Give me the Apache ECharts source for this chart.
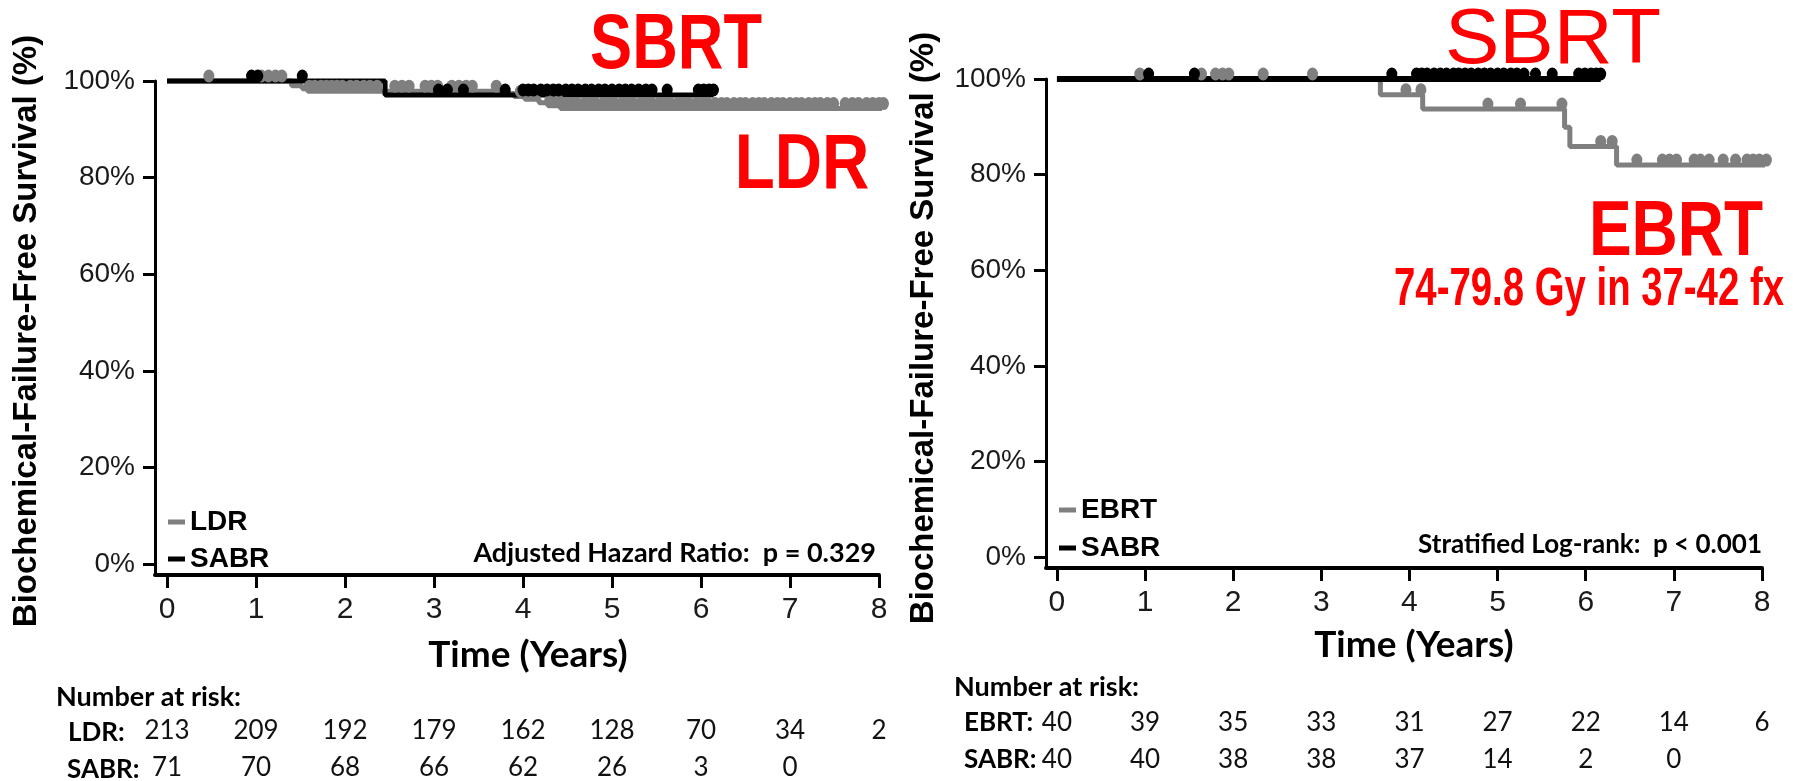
<!DOCTYPE html>
<html>
<head>
<meta charset="utf-8">
<script src="https://cdn.jsdelivr.net/npm/echarts@6/dist/echarts.min.js"></script>
<style>
html,body{margin:0;padding:0;background:#fff;}
#chart{width:1804px;height:781px;}
</style>
</head>
<body>
<div id="chart"></div>
<script>
// tick values
var yearTicks = [0, 1, 2, 3, 4, 5, 6, 7, 8];
var pctTicks = [0, 20, 40, 60, 80, 100];

// left panel - LDR vs SABR (step points)
var ldrTimes = [0, 1.40, 1.52, 1.58, 3.72, 3.90, 4.02, 4.18, 4.28, 4.42, 8.05];
var ldrSurv = [100, 99.0, 98.4, 97.9, 97.4, 96.8, 96.2, 95.5, 94.9, 94.3, 94.3];
var sabrLTimes = [0, 2.45, 6.14];
var sabrLSurv = [100, 97.1, 97.1];
// censor marks (years)
var ldrCensor = [0.47, 1.06, 1.14, 1.22, 1.29, 1.6, 1.66, 1.73, 1.79, 1.85, 1.91, 1.97, 2.06, 2.13, 2.21, 2.28, 2.36,
    2.56, 2.64, 2.72, 2.9, 2.97, 3.04, 3.2, 3.28, 3.36, 3.43, 3.7, 3.97, 4.05, 4.14, 4.3, 4.4, 4.48, 4.55, 4.61,
    4.69, 4.76, 4.82, 4.9, 4.97, 5.03, 5.11, 5.18, 5.24, 5.32, 5.39, 5.45, 5.53, 5.6, 5.66, 5.74, 5.81, 5.87, 5.95,
    6.02, 6.08, 6.16, 6.23, 6.29, 6.37, 6.44, 6.5, 6.58, 6.65, 6.71, 6.79, 6.86, 6.92, 7.0, 7.07, 7.13, 7.21, 7.28,
    7.34, 7.42, 7.49, 7.62, 7.7, 7.77, 7.86, 7.93, 8.0, 8.05];
var sabrLCensor = [0.95, 1.02, 1.52, 3.05, 3.15, 3.33, 3.8, 4.0, 4.06, 4.12, 4.2, 4.27, 4.34, 4.4, 4.48, 4.55, 4.62,
    4.7, 4.77, 4.85, 4.92, 5.0, 5.08, 5.15, 5.22, 5.3, 5.38, 5.45, 5.62, 5.97, 6.03, 6.09, 6.14];

// right panel - EBRT vs SABR
var ebrtTimes = [0, 3.67, 4.15, 5.76, 5.82, 6.35, 8.07];
var ebrtSurv = [100, 96.7, 93.7, 89.9, 85.9, 82.0, 82.0];
var sabrRTimes = [0, 6.17];
var sabrRSurv = [100, 100];
var ebrtCensor = [0.94, 1.64, 1.8, 1.88, 1.95, 2.34, 2.9, 3.96, 4.13, 4.89, 5.26, 5.73, 6.17, 6.3, 6.58, 6.87,
    6.95, 7.03, 7.23, 7.3, 7.4, 7.56, 7.7, 7.83, 7.9, 7.97, 8.05];
var sabrRCensor = [1.04, 1.56, 3.8, 4.08, 4.14, 4.2, 4.28, 4.35, 4.42, 4.5, 4.56, 4.63, 4.7, 4.78, 4.85, 4.92, 5.0,
    5.07, 5.15, 5.22, 5.3, 5.43, 5.62, 5.92, 5.99, 6.06, 6.12, 6.17];

// number at risk
var riskLdr = [213, 209, 192, 179, 162, 128, 70, 34, 2];
var riskSabrL = [71, 70, 68, 66, 62, 26, 3, 0];
var riskEbrt = [40, 39, 35, 33, 31, 27, 22, 14, 6];
var riskSabrR = [40, 40, 38, 38, 37, 14, 2, 0];

var GRAY = '#7f7f7f';
var ARIAL = '"Liberation Sans", Arial, sans-serif';
var CALI = 'Lato, "Open Sans", sans-serif';

function pairs(t, s) {
    return t.map(function (v, i) { return [v, s[i]]; });
}
function survAt(t, s, x) {
    var v = s[0];
    for (var i = 0; i < t.length; i++) { if (t[i] <= x) v = s[i]; }
    return v;
}
function censorPts(c, t, s) {
    return c.map(function (x) { return [x, survAt(t, s, x)]; });
}

function mainX(grid, xmin) {
    return {
        type: 'value', gridIndex: grid, min: xmin, max: 8, position: 'bottom',
        splitLine: {show: false},
        axisLine: {show: true, onZero: false, lineStyle: {color: '#000', width: 4}},
        axisTick: {show: true, length: 13, customValues: yearTicks, lineStyle: {color: '#000', width: 3}},
        axisLabel: {customValues: yearTicks, margin: 35, verticalAlign: 'middle',
            fontFamily: ARIAL, fontSize: 30, color: '#1a1a1a'}
    };
}
function riskX(grid, xmin, vals, off) {
    return {
        type: 'value', gridIndex: grid, min: xmin, max: 8, position: 'bottom', offset: off,
        splitLine: {show: false}, axisLine: {show: false}, axisTick: {show: false},
        axisLabel: {customValues: yearTicks.slice(0, vals.length), margin: 0, verticalAlign: 'middle',
            fontFamily: CALI, fontSize: 26, color: '#111',
            formatter: function (v) { var r = vals[Math.round(v)]; return r === undefined ? '' : String(r); }}
    };
}
function mainY(grid, ymin) {
    return {
        type: 'value', gridIndex: grid, min: ymin, max: 100,
        splitLine: {show: false},
        axisLine: {show: true, onZero: false, lineStyle: {color: '#000', width: 3}},
        axisTick: {show: true, length: 12, customValues: pctTicks, lineStyle: {color: '#000', width: 3}},
        axisLabel: {customValues: pctTicks, margin: 20, formatter: '{value}%',
            fontFamily: ARIAL, fontSize: 28, color: '#1a1a1a'}
    };
}
function stepSeries(name, xi, yi, data, color, w, z) {
    return {name: name, type: 'line', step: 'end', xAxisIndex: xi, yAxisIndex: yi, data: data,
        showSymbol: false, clip: false, z: z,
        lineStyle: {color: color, width: w}, itemStyle: {color: color}};
}
function censorSeries(name, xi, yi, data, color, z) {
    return {name: name, type: 'scatter', xAxisIndex: xi, yAxisIndex: yi, data: data, clip: false, z: z,
        symbol: 'circle', symbolSize: [11, 13], symbolOffset: [0, -5], itemStyle: {color: color, opacity: 1}};
}
function label(x, y, text, font, align, sx) {
    return {type: 'text', x: x, y: y, scaleX: sx || 1,
        style: {text: text, font: font, fill: '#ff0000', textAlign: align || 'center', textVerticalAlign: 'middle'}};
}
function plain(x, y, text, font, align) {
    return {type: 'text', x: x, y: y,
        style: {text: text, font: font, fill: '#000', textAlign: align || 'left', textVerticalAlign: 'middle'}};
}

var chart = echarts.init(document.getElementById('chart'));
var option = {
    backgroundColor: '#fff',
    animation: false,
    grid: [
        {left: 155, top: 81, width: 724, height: 496},
        {left: 1046, top: 79, width: 716, height: 489}
    ],
    xAxis: [
        mainX(0, -0.135), riskX(0, -0.135, riskLdr, 156), riskX(0, -0.135, riskSabrL, 193),
        mainX(1, -0.124), riskX(1, -0.124, riskEbrt, 155), riskX(1, -0.124, riskSabrR, 192)
    ],
    yAxis: [mainY(0, -2.27), mainY(1, -2.3)],
    legend: [
        {orient: 'vertical', left: 163, top: 503, itemWidth: 17, itemHeight: 5, itemGap: 9,
            textStyle: {fontFamily: ARIAL, fontWeight: 'bold', fontSize: 28, lineHeight: 27, color: '#000'},
            data: [{name: 'LDR', icon: 'rect', itemStyle: {color: GRAY}}, {name: 'SABR', icon: 'rect', itemStyle: {color: '#000'}}]},
        {orient: 'vertical', left: 1054, top: 491, itemWidth: 17, itemHeight: 5, itemGap: 10,
            textStyle: {fontFamily: ARIAL, fontWeight: 'bold', fontSize: 28, lineHeight: 27, color: '#000'},
            data: [{name: 'EBRT', icon: 'rect', itemStyle: {color: GRAY}}, {name: 'SABR', icon: 'rect', itemStyle: {color: '#000'}}]}
    ],
    series: [
        stepSeries('LDR', 0, 0, pairs(ldrTimes, ldrSurv), GRAY, 5, 2),
        stepSeries('SABR', 0, 0, pairs(sabrLTimes, sabrLSurv), '#000', 5, 3),
        censorSeries('LDR', 0, 0, censorPts(ldrCensor, ldrTimes, ldrSurv), GRAY, 4),
        censorSeries('SABR', 0, 0, censorPts(sabrLCensor, sabrLTimes, sabrLSurv), '#000', 5),
        stepSeries('EBRT', 3, 1, pairs(ebrtTimes, ebrtSurv), GRAY, 5, 2),
        stepSeries('SABR', 3, 1, pairs(sabrRTimes, sabrRSurv), '#000', 6, 3),
        censorSeries('EBRT', 3, 1, censorPts(ebrtCensor, ebrtTimes, ebrtSurv), GRAY, 4),
        censorSeries('SABR', 3, 1, censorPts(sabrRCensor, sabrRTimes, sabrRSurv), '#000', 5)
    ],
    graphic: [
        // y axis titles
        {type: 'text', x: 27, y: 331, rotation: Math.PI / 2,
            style: {text: 'Biochemical-Failure-Free Survival (%)', font: 'bold 33px ' + ARIAL, fill: '#000',
                textAlign: 'center', textVerticalAlign: 'middle'}},
        {type: 'text', x: 924, y: 328, rotation: Math.PI / 2,
            style: {text: 'Biochemical-Failure-Free Survival (%)', font: 'bold 33px ' + ARIAL, fill: '#000',
                textAlign: 'center', textVerticalAlign: 'middle'}},
        // x axis titles
        plain(528, 655, 'Time (Years)', 'bold 37px ' + CALI, 'center'),
        plain(1414, 645, 'Time (Years)', 'bold 37px ' + CALI, 'center'),
        // stats
        plain(876, 553, 'Adjusted Hazard Ratio:  p = 0.329', 'bold 27px ' + CALI, 'right'),
        plain(1762, 545, 'Stratified Log-rank:  p < 0.001', 'bold 26px ' + CALI, 'right'),
        // number at risk headers
        plain(56, 697, 'Number at risk:', 'bold 27px ' + CALI),
        plain(68, 733, 'LDR:', 'bold 26px ' + CALI),
        plain(67, 770, 'SABR:', 'bold 26px ' + CALI),
        plain(954, 687, 'Number at risk:', 'bold 27px ' + CALI),
        plain(964, 723, 'EBRT:', 'bold 26px ' + CALI),
        plain(964, 760, 'SABR:', 'bold 26px ' + CALI),
        // red annotations
        label(676, 46, 'SBRT', 'bold 78px ' + ARIAL, 'center', 0.81),
        label(802, 166, 'LDR', 'bold 78px ' + ARIAL, 'center', 0.84),
        label(1553, 42, 'SBRT', '77px ' + ARIAL, 'center', 1.06),
        label(1676, 233, 'EBRT', 'bold 78px ' + ARIAL, 'center', 0.82),
        label(1589, 290, '74-79.8 Gy in 37-42 fx', 'bold 54px ' + ARIAL, 'center', 0.71)
    ]
};
chart.setOption(option);
</script>
</body>
</html>
